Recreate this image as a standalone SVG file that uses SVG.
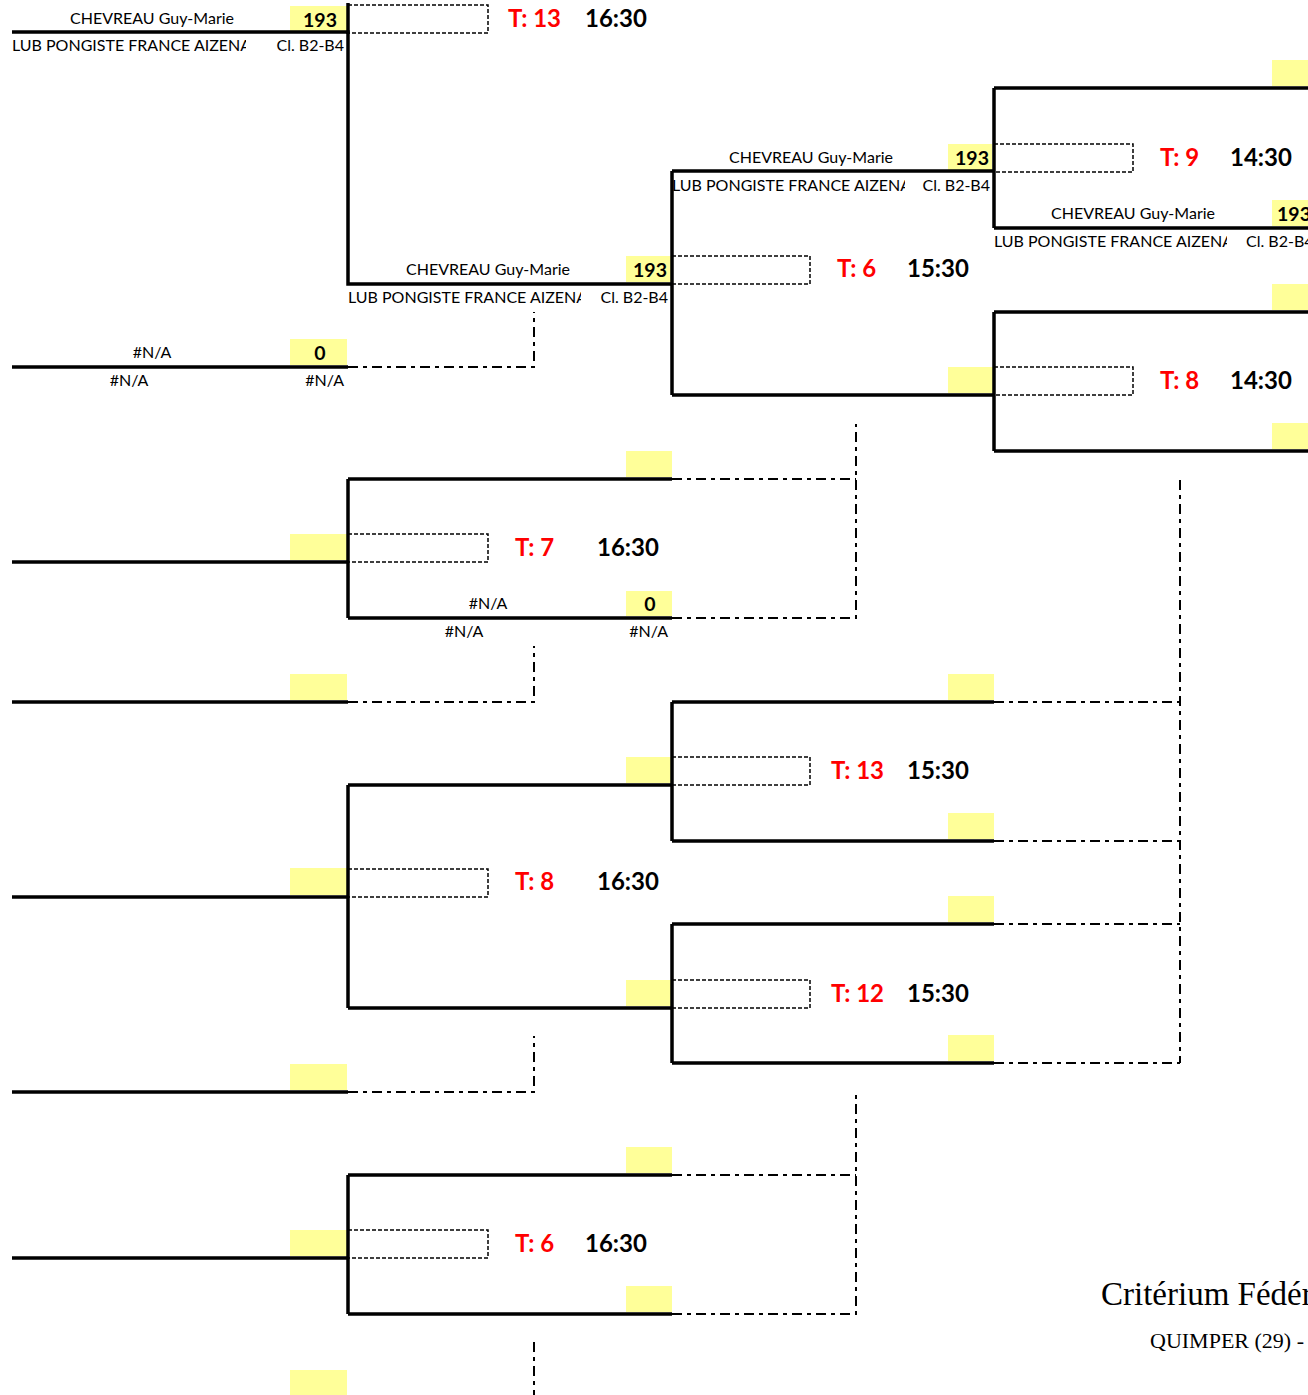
<svg xmlns="http://www.w3.org/2000/svg" width="1308" height="1395" viewBox="0 0 1308 1395">
<style>
.bg{fill:#fff}
.y{fill:#ffff99}
.ln{stroke:#000;stroke-width:3.5;fill:none;stroke-linecap:butt}
.dr{stroke:#000;stroke-width:1.5;fill:none;stroke-dasharray:4 2}
.dd{stroke:#000;stroke-width:2;fill:none;stroke-dasharray:10 5 4 5}
.nm{font-family:Lato,"Liberation Sans",sans-serif;font-size:16px;fill:#000}
.sc{font-family:Lato,"Liberation Sans",sans-serif;font-size:19.5px;font-weight:bold;fill:#000;text-anchor:middle}
.t{font-family:Lato,"Liberation Sans",sans-serif;font-size:24px;font-weight:bold;fill:#ff0000}
.h{font-family:Lato,"Liberation Sans",sans-serif;font-size:24px;font-weight:bold;fill:#000}
.mid{text-anchor:middle}
.end{text-anchor:end}
.ser{font-family:"Liberation Serif","DejaVu Serif",serif;fill:#000}
</style>
<defs>
<clipPath id="c1"><rect x="0" y="30" width="246" height="30"/></clipPath>
<clipPath id="c2"><rect x="340" y="282" width="241" height="30"/></clipPath>
<clipPath id="c3"><rect x="664" y="170" width="241" height="30"/></clipPath>
<clipPath id="c4"><rect x="986" y="226" width="241" height="30"/></clipPath>
</defs>
<rect class="bg" x="0" y="0" width="1308" height="1395"/>

<g id="yellow-boxes">
<rect class="y" x="290" y="6" width="57" height="26"/>
<rect class="y" x="290" y="339" width="57" height="26"/>
<rect class="y" x="290" y="534" width="57" height="26"/>
<rect class="y" x="290" y="674" width="57" height="26"/>
<rect class="y" x="290" y="868" width="57" height="27"/>
<rect class="y" x="290" y="1064" width="57" height="26"/>
<rect class="y" x="290" y="1230" width="57" height="26"/>
<rect class="y" x="290" y="1370" width="57" height="25"/>
<rect class="y" x="626" y="256" width="45" height="26"/>
<rect class="y" x="626" y="451" width="46" height="26"/>
<rect class="y" x="626" y="591" width="46" height="25"/>
<rect class="y" x="626" y="757" width="45" height="26"/>
<rect class="y" x="626" y="980" width="45" height="26"/>
<rect class="y" x="626" y="1147" width="46" height="26"/>
<rect class="y" x="626" y="1286" width="46" height="26"/>
<rect class="y" x="948" y="144" width="44" height="26"/>
<rect class="y" x="948" y="367" width="46" height="26"/>
<rect class="y" x="948" y="674" width="46" height="26"/>
<rect class="y" x="948" y="813" width="46" height="26"/>
<rect class="y" x="948" y="896" width="46" height="26"/>
<rect class="y" x="948" y="1035" width="46" height="26"/>
<rect class="y" x="1272" y="60" width="36" height="26"/>
<rect class="y" x="1272" y="200" width="36" height="26"/>
<rect class="y" x="1272" y="284" width="36" height="26"/>
<rect class="y" x="1272" y="423" width="36" height="26"/>
</g>

<g id="connectors">
<path class="ln" d="M12 32 H348 V284 H672"/>
<path class="ln" d="M348 3 V34"/>
<path class="ln" d="M12 367 H348"/>
<path class="dd" d="M348 367 H534 V312"/>
<path class="ln" d="M12 562 H348"/>
<path class="ln" d="M348 479 V618"/>
<path class="ln" d="M348 479 H672"/>
<path class="ln" d="M348 618 H672"/>
<path class="dd" d="M672 479 H856"/>
<path class="dd" d="M672 618 H856 V424"/>
<path class="ln" d="M12 702 H348"/>
<path class="dd" d="M348 702 H534 V646"/>
<path class="ln" d="M12 897 H348"/>
<path class="ln" d="M348 785 H672 M348 1008 H672 M348 785 V1008"/>
<path class="ln" d="M12 1092 H348"/>
<path class="dd" d="M348 1092 H534 V1036"/>
<path class="ln" d="M12 1258 H348"/>
<path class="ln" d="M348 1175 H672 M348 1314 H672 M348 1175 V1314"/>
<path class="dd" d="M672 1175 H856 M672 1314 H856 V1092"/>
<path class="dd" d="M534 1342 V1395"/>
<path class="ln" d="M672 171 V395 M672 171 H994 M672 395 H994"/>
<path class="ln" d="M672 702 H994 M672 841 H994 M672 702 V841"/>
<path class="ln" d="M672 924 H994 M672 1063 H994 M672 924 V1063"/>
<path class="dd" d="M994 702 H1180 M994 841 H1180 M994 924 H1180 M994 1063 H1180 M1180 480 V1063"/>
<path class="ln" d="M994 88 H1308 M994 228 H1308 M994 88 V228"/>
<path class="ln" d="M994 312 H1308 M994 451 H1308 M994 312 V451"/>
</g>

<g id="score-boxes">
<rect class="dr" x="348" y="5" width="140" height="28"/>
<rect class="dr" x="672" y="256" width="138" height="28"/>
<rect class="dr" x="994" y="144" width="139" height="28"/>
<rect class="dr" x="994" y="367" width="139" height="28"/>
<rect class="dr" x="348" y="534" width="140" height="28"/>
<rect class="dr" x="672" y="757" width="138" height="28"/>
<rect class="dr" x="348" y="869" width="140" height="28"/>
<rect class="dr" x="672" y="980" width="138" height="28"/>
<rect class="dr" x="348" y="1230" width="140" height="28"/>
</g>

<g id="node-r1-1">
<text class="nm mid" x="152" y="24">CHEVREAU Guy-Marie</text>
<text class="sc" x="320" y="27">193</text>
<text class="nm" x="12" y="51" clip-path="url(#c1)">LUB PONGISTE FRANCE AIZENA</text>
<text class="nm end" x="344" y="51">Cl. B2-B4</text>
</g>
<g id="node-r1-2">
<text class="nm mid" x="152" y="358">#N/A</text>
<text class="sc" x="320" y="360">0</text>
<text class="nm mid" x="129" y="386">#N/A</text>
<text class="nm end" x="344" y="386">#N/A</text>
</g>
<g id="node-r2-1">
<text class="nm mid" x="488" y="275">CHEVREAU Guy-Marie</text>
<text class="sc" x="650" y="277">193</text>
<text class="nm" x="348" y="303" clip-path="url(#c2)">LUB PONGISTE FRANCE AIZENA</text>
<text class="nm end" x="668" y="303">Cl. B2-B4</text>
</g>
<g id="node-r2-2">
<text class="nm mid" x="488" y="609">#N/A</text>
<text class="sc" x="650" y="611">0</text>
<text class="nm mid" x="464" y="637">#N/A</text>
<text class="nm end" x="668" y="637">#N/A</text>
</g>
<g id="node-r3-1">
<text class="nm mid" x="811" y="163">CHEVREAU Guy-Marie</text>
<text class="sc" x="972" y="165">193</text>
<text class="nm" x="672" y="191" clip-path="url(#c3)">LUB PONGISTE FRANCE AIZENA</text>
<text class="nm end" x="990" y="191">Cl. B2-B4</text>
</g>
<g id="node-r4-1">
<text class="nm mid" x="1133" y="219">CHEVREAU Guy-Marie</text>
<text class="sc" x="1294" y="221">193</text>
<text class="nm" x="994" y="247" clip-path="url(#c4)">LUB PONGISTE FRANCE AIZENA</text>
<text class="nm" x="1246" y="247">Cl. B2-B4</text>
</g>

<g id="match-labels">
<text class="t" x="508" y="27">T: 13</text><text class="h" x="585" y="27">16:30</text>
<text class="t" x="837" y="277">T: 6</text><text class="h" x="907" y="277">15:30</text>
<text class="t" x="1160" y="166">T: 9</text><text class="h" x="1230" y="166">14:30</text>
<text class="t" x="1160" y="389">T: 8</text><text class="h" x="1230" y="389">14:30</text>
<text class="t" x="515" y="556">T: 7</text><text class="h" x="597" y="556">16:30</text>
<text class="t" x="831" y="779">T: 13</text><text class="h" x="907" y="779">15:30</text>
<text class="t" x="515" y="890">T: 8</text><text class="h" x="597" y="890">16:30</text>
<text class="t" x="831" y="1002">T: 12</text><text class="h" x="907" y="1002">15:30</text>
<text class="t" x="515" y="1252">T: 6</text><text class="h" x="585" y="1252">16:30</text>
</g>

<g id="footer">
<text class="ser" x="1101" y="1305" font-size="33">Critérium Fédér</text>
<text class="ser" x="1150" y="1348" font-size="22">QUIMPER (29) -</text>
</g>
</svg>
